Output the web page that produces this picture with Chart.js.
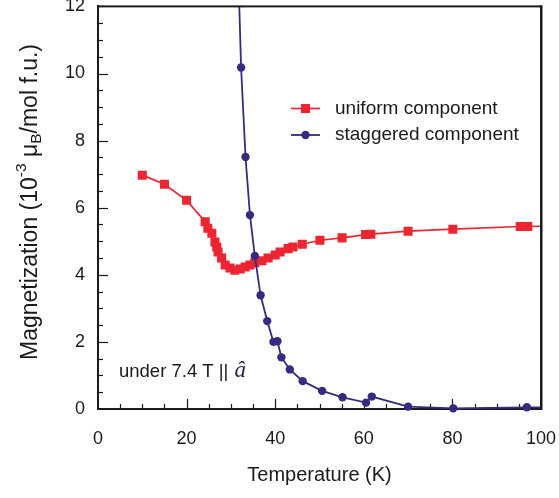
<!DOCTYPE html>
<html>
<head>
<meta charset="utf-8">
<script src="https://cdn.jsdelivr.net/npm/chart.js@4/dist/chart.umd.min.js"></script>
<style>
  html, body { margin: 0; padding: 0; background: #fff; }
  #wrap { width: 559px; height: 498px; position: relative; }
</style>
</head>
<body>
<div id="wrap"><canvas id="c"></canvas></div>
<script>
// Temperature (K) and magnetization (10^-3 muB / mol f.u.) for each component
const uniformT = [10, 15, 20, 24.2, 24.8, 25.7, 26.4, 26.8, 27.1, 27.9, 28.7, 29.8, 30.9, 32.1, 33.2, 34.3, 35.4, 37.0, 38.4, 40.0, 41.1, 42.9, 44.0, 46.1, 50.1, 55.1, 60.4, 61.6, 70.0, 80.1, 95.3, 97.0, 101];
const uniformM = [6.97, 6.70, 6.22, 5.58, 5.39, 5.24, 4.98, 4.83, 4.68, 4.50, 4.29, 4.20, 4.14, 4.17, 4.23, 4.29, 4.36, 4.42, 4.50, 4.59, 4.68, 4.78, 4.83, 4.91, 5.03, 5.10, 5.20, 5.21, 5.30, 5.36, 5.44, 5.44, 5.45];

const staggeredT = [31.0, 32.3, 33.3, 34.3, 35.4, 36.7, 38.2, 39.6, 40.5, 41.4, 43.3, 46.2, 50.6, 55.2, 60.5, 61.8, 70.0, 80.2, 96.8, 101];
const staggeredM = [16, 10.18, 7.51, 5.78, 4.56, 3.39, 2.62, 2.00, 2.02, 1.54, 1.18, 0.83, 0.54, 0.35, 0.19, 0.37, 0.07, 0.02, 0.05, 0.05];

const seriesNames = ['uniform component', 'staggered component'];
const xTickValues = [0, 20, 40, 60, 80, 100];
const yTickValues = [0, 2, 4, 6, 8, 10, 12];
const X_MIN = 0, X_MAX = 100, Y_MIN = 0, Y_MAX = 12;

const RED = '#ED2530';
const NAVY = '#352C82';
const INK = '#1a1a1a';
const SANS = '"Liberation Sans", Arial, Helvetica, sans-serif';

const toPoints = (xs, ys) => xs.map((x, i) => ({ x, y: ys[i] }));
// markers only for points that lie inside the axis range
const inRange = p => p.x <= X_MAX && p.y <= Y_MAX;

// plot box in pixels, taken from the scales themselves
const plotBox = chart => {
  const { x, y } = chart.scales;
  return {
    left: x.getPixelForValue(X_MIN), right: x.getPixelForValue(X_MAX),
    top: y.getPixelForValue(Y_MAX), bottom: y.getPixelForValue(Y_MIN)
  };
};

// inward tick marks, box frame, legend, annotations and axis titles
const decorations = {
  id: 'decorations',
  beforeDatasetsDraw(chart) {
    const { ctx, scales: { x, y } } = chart;
    const a = plotBox(chart);
    ctx.save();
    ctx.strokeStyle = INK;
    ctx.lineWidth = 1.2;
    for (let v = 5; v < 100; v += 5) {
      const px = Math.round(x.getPixelForValue(v)) + 0.5;
      const len = v % 20 === 0 ? 10 : 5;
      ctx.beginPath(); ctx.moveTo(px, a.bottom); ctx.lineTo(px, a.bottom - len); ctx.stroke();
    }
    for (let v = 0.5; v < 12; v += 0.5) {
      const py = Math.round(y.getPixelForValue(v)) + 0.5;
      const len = v % 2 === 0 ? 10 : 5;
      ctx.beginPath(); ctx.moveTo(a.left, py); ctx.lineTo(a.left + len, py); ctx.stroke();
    }
    ctx.restore();
  },
  afterDatasetsDraw(chart) {
    const { ctx } = chart;
    const a = plotBox(chart);
    // box frame along the top and right edges
    ctx.save();
    ctx.fillStyle = INK;
    ctx.fillRect(a.left, a.top - 1, a.right - a.left + 1, 2);
    ctx.fillRect(a.right - 1, a.top - 1, 2.5, a.bottom - a.top + 2);
    ctx.restore();
  },
  afterDraw(chart) {
    const { ctx } = chart;
    const a = plotBox(chart);
    ctx.save();

    // legend
    const ds = chart.data.datasets;
    const legendRows = [{ d: ds[0], yy: 108.5 }, { d: ds[1], yy: 135 }];
    legendRows.forEach(({ d, yy }) => {
      ctx.strokeStyle = d.borderColor;
      ctx.lineWidth = d.borderWidth;
      ctx.beginPath(); ctx.moveTo(291, yy); ctx.lineTo(320, yy); ctx.stroke();
      ctx.fillStyle = d.pointBackgroundColor;
      if (d.pointStyle === 'rect') {
        ctx.fillRect(305.5 - 4.5, yy - 4.5, 9, 9);
      } else {
        ctx.beginPath(); ctx.arc(305.5, yy, 4.2, 0, Math.PI * 2); ctx.fill();
      }
      ctx.fillStyle = INK;
      ctx.font = '19px ' + SANS;
      ctx.textAlign = 'left';
      ctx.textBaseline = 'middle';
      ctx.fillText(d.label, 335, yy);
    });

    // field annotation
    ctx.fillStyle = INK;
    ctx.font = '18.5px ' + SANS;
    ctx.textAlign = 'left';
    ctx.textBaseline = 'alphabetic';
    const note = 'under 7.4 T || ';
    ctx.fillText(note, 119, 377);
    const nw = ctx.measureText(note).width;
    ctx.fillStyle = '#1e1f4a';
    ctx.font = 'italic 23px "Liberation Serif", "DejaVu Serif", serif';
    ctx.fillText('\u00e2', 119 + nw + 1, 377);

    // x title
    ctx.fillStyle = INK;
    ctx.font = '20px ' + SANS;
    ctx.textAlign = 'center';
    ctx.textBaseline = 'middle';
    ctx.fillText('Temperature (K)', (a.left + a.right) / 2, 475);

    // y title with superscript and subscript
    const big = '23px ' + SANS, small = '15.5px ' + SANS;
    const parts = [
      { t: 'Magnetization (10', f: big, dy: 0 },
      { t: '-3', f: small, dy: -9 },
      { t: ' \u03bc', f: big, dy: 0 },
      { t: 'B', f: small, dy: 6 },
      { t: '/mol f.u.)', f: big, dy: 0 }
    ];
    let total = 0;
    parts.forEach(p => { ctx.font = p.f; p.w = ctx.measureText(p.t).width; total += p.w; });
    ctx.translate(31, 202);
    ctx.rotate(-Math.PI / 2);
    ctx.textAlign = 'left';
    ctx.textBaseline = 'middle';
    let cx = -total / 2;
    parts.forEach(p => { ctx.font = p.f; ctx.fillText(p.t, cx, p.dy); cx += p.w; });
    ctx.restore();
  }
};

new Chart(document.getElementById('c'), {
  type: 'scatter',
  data: {
    datasets: [
      {
        label: seriesNames[0],
        data: toPoints(uniformT, uniformM),
        showLine: true,
        borderColor: RED,
        borderWidth: 1.7,
        pointStyle: 'rect',
        pointBackgroundColor: RED,
        pointBorderWidth: 0,
        pointRadius: c => inRange(c.raw) ? 6.4 : 0,
        clip: { left: 10, top: 0, right: 0, bottom: 10 },
        order: 1
      },
      {
        label: seriesNames[1],
        data: toPoints(staggeredT, staggeredM),
        showLine: true,
        borderColor: NAVY,
        borderWidth: 1.8,
        pointStyle: 'circle',
        pointBackgroundColor: NAVY,
        pointBorderWidth: 0,
        pointRadius: c => inRange(c.raw) ? 4.2 : 0,
        clip: { left: 10, top: 0, right: 0, bottom: 10 },
        order: 0
      }
    ]
  },
  options: {
    responsive: true,
    maintainAspectRatio: false,
    animation: false,
    layout: { padding: { top: 6, right: 18, left: 0, bottom: 0 } },
    plugins: { legend: { display: false }, tooltip: { enabled: false } },
    scales: {
      x: {
        type: 'linear',
        min: X_MIN, max: X_MAX,
        afterBuildTicks: s => { s.ticks = xTickValues.map(v => ({ value: v })); },
        afterFit: s => { s.height = 89; s.paddingLeft = 0; s.paddingRight = 0; },
        grid: { display: false, drawTicks: false },
        border: { display: true, color: INK, width: 2 },
        ticks: { color: INK, font: { family: SANS, size: 18 }, padding: 19, maxRotation: 0 }
      },
      y: {
        type: 'linear',
        min: Y_MIN, max: Y_MAX,
        afterBuildTicks: s => { s.ticks = yTickValues.map(v => ({ value: v })); },
        afterFit: s => { s.width = 98; s.paddingTop = 0; s.paddingBottom = 0; },
        grid: { display: false, drawTicks: false },
        border: { display: true, color: INK, width: 2 },
        ticks: { color: INK, font: { family: SANS, size: 18 }, padding: 13 }
      }
    }
  },
  plugins: [decorations]
});
</script>
</body>
</html>
